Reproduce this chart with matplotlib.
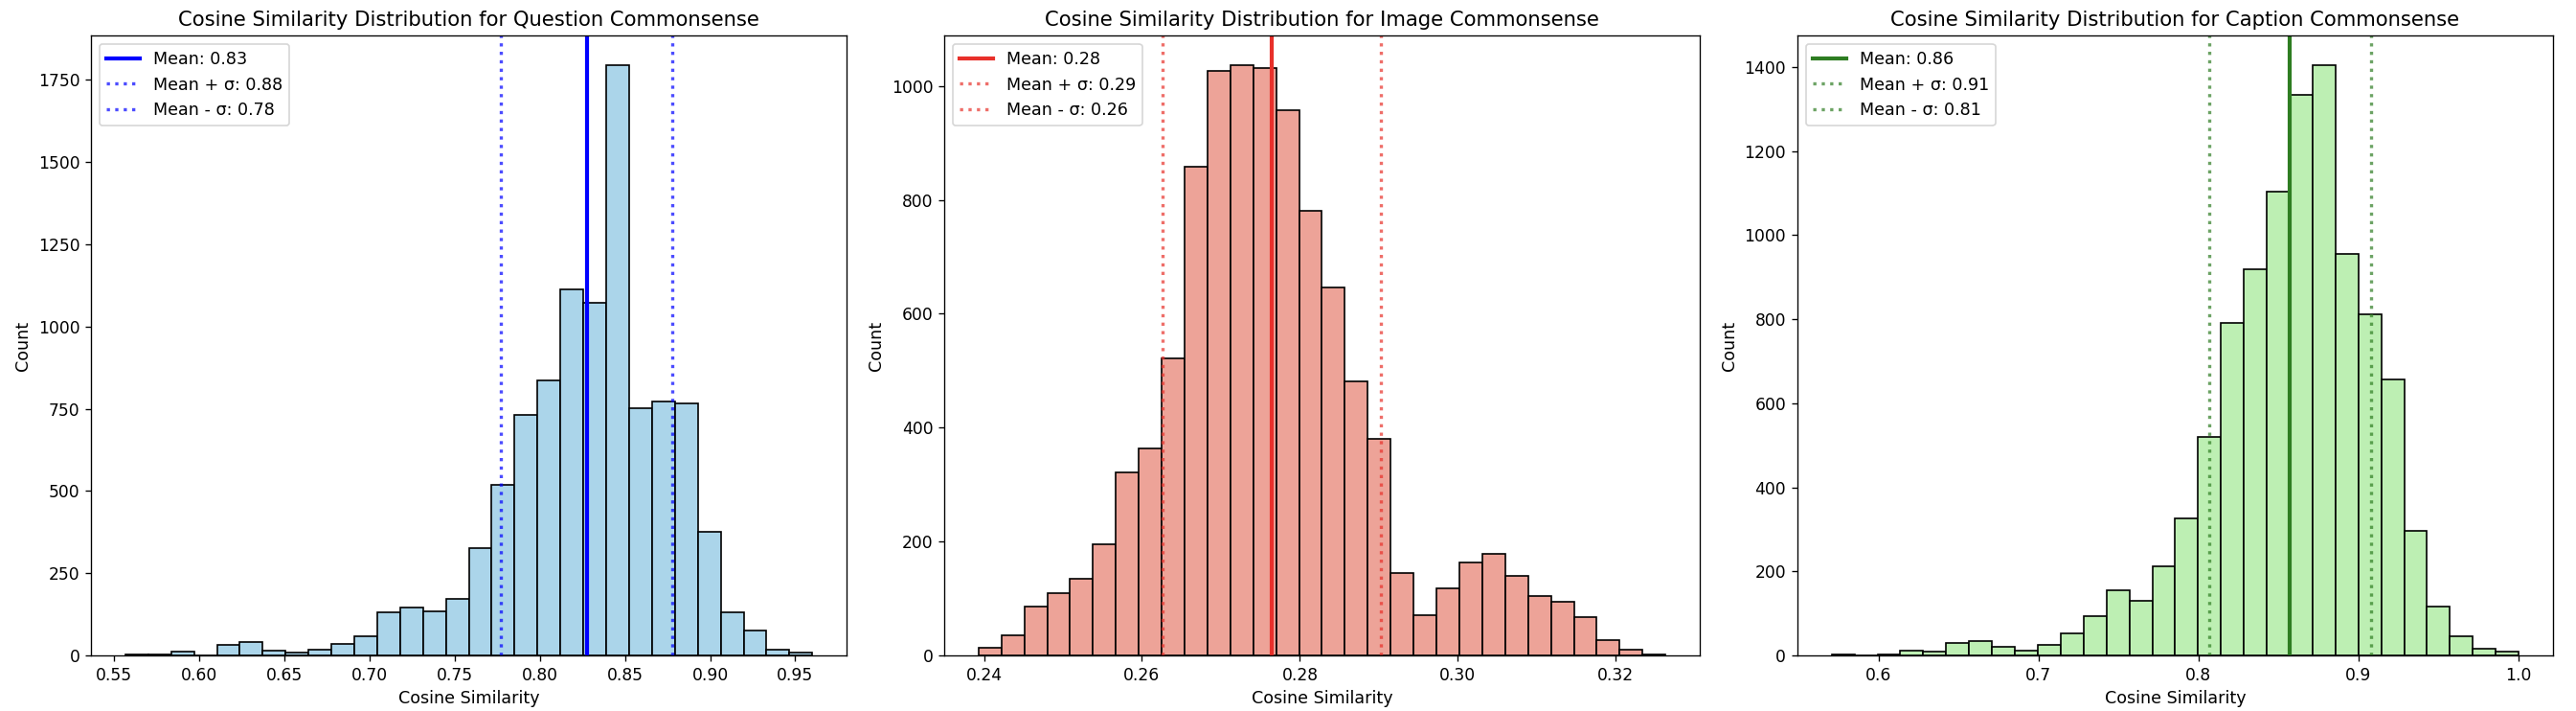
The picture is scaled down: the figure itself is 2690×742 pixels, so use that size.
import numpy as np
import matplotlib
matplotlib.use("Agg")
import matplotlib.pyplot as plt

# ---- data ----
titles = ["Question Commonsense", "Image Commonsense", "Caption Commonsense"]

q_range = (0.5565, 0.9600)
q_counts = [3, 3, 11, 0, 33, 40, 14, 8, 18, 34, 59, 130, 145, 134, 173, 327,
            519, 731, 836, 1112, 1071, 1795, 751, 773, 765, 375, 132, 77, 18, 10]
q_mean, q_std = 0.8274, 0.0505

i_range = (0.2393, 0.3263)
i_counts = [14, 36, 86, 110, 134, 196, 321, 364, 522, 859, 1027, 1037, 1032, 958,
            781, 647, 481, 380, 144, 70, 118, 163, 179, 140, 105, 94, 67, 27, 10, 2]
i_mean, i_std = 0.2764, 0.0138

c_range = (0.5708, 1.0000)
c_counts = [3, 0, 3, 11, 9, 29, 35, 21, 11, 24, 53, 93, 154, 131, 213, 327, 520,
            792, 920, 1104, 1335, 1405, 955, 812, 657, 297, 117, 46, 17, 9]
c_mean, c_std = 0.8572, 0.0508

fill_colors = ["#ABD5EA", "#EDA398", "#BDEFB3"]
line_colors = ["#0000FF", "#E8302A", "#2E7D22"]

panels = [(q_range, q_counts, q_mean, q_std),
          (i_range, i_counts, i_mean, i_std),
          (c_range, c_counts, c_mean, c_std)]

plt.rcParams["xtick.labelsize"] = 10.3
plt.rcParams["ytick.labelsize"] = 10.3

fig, axes = plt.subplots(1, 3, figsize=(2690 / 120, 742 / 120), dpi=120)
fig.subplots_adjust(left=95 / 2690, right=2666 / 2690, bottom=58 / 742,
                    top=1 - 37 / 742, wspace=0.129)

for ax, title, (rng, counts, mean, std), fc, lc in zip(
        axes, titles, panels, fill_colors, line_colors):
    edges = np.linspace(rng[0], rng[1], len(counts) + 1)
    ax.bar(edges[:-1], counts, width=np.diff(edges), align="edge",
           color=fc, edgecolor="black", linewidth=1.0)
    ax.axvline(mean, color=lc, linestyle="-", linewidth=2.5,
               label=f"Mean: {mean:.2f}")
    ax.axvline(mean + std, color=lc, linestyle=":", linewidth=2, alpha=0.7,
               label=f"Mean + σ: {mean + std:.2f}")
    ax.axvline(mean - std, color=lc, linestyle=":", linewidth=2, alpha=0.7,
               label=f"Mean - σ: {mean - std:.2f}")
    ax.set_title(f"Cosine Similarity Distribution for {title}", fontsize=12.7)
    ax.set_xlabel("Cosine Similarity", fontsize=10.5)
    ax.set_ylabel("Count", fontsize=10.5)
    ax.legend(loc="upper left", fontsize=10.5)

fig.savefig("out.png", dpi=120)
